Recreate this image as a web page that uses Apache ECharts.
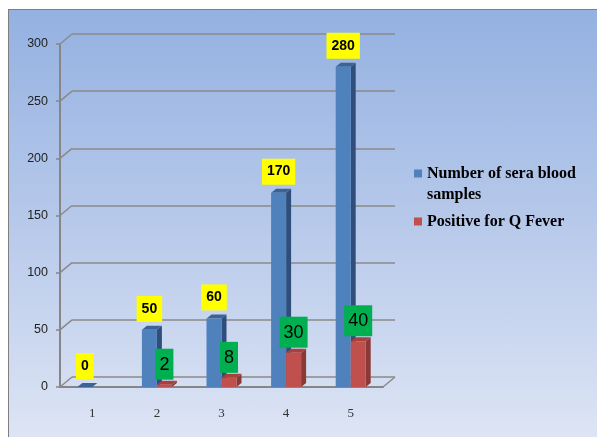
<!DOCTYPE html>
<html>
<head>
<meta charset="utf-8">
<script src="https://cdn.jsdelivr.net/npm/echarts@6/dist/echarts.min.js"></script>
<style>
  html, body { margin: 0; padding: 0; background: #fff; }
  #wrap { position: relative; width: 597px; height: 437px; overflow: hidden; }
  #panel {
    position: absolute; left: 8px; top: 9px; width: 620px; height: 460px;
    border-left: 1px solid #7f7f7f; border-top: 1px solid #7f7f7f;
    background: linear-gradient(to bottom, #94b1e1 0%, #bacbeb 50%, #e3e9f6 100%);
  }
  #main { position: absolute; left: 0; top: 0; width: 597px; height: 437px; }
</style>
</head>
<body>
<div id="wrap">
  <div id="panel"></div>
  <div id="main"></div>
</div>
<script>
const categories = ['1', '2', '3', '4', '5']
const seriesNames = ['Number of sera blood samples', 'Positive for Q Fever']
const samples = [0, 50, 60, 170, 280]
const positive = [null, 2, 8, 30, 40]
const yTicks = [0, 50, 100, 150, 200, 250, 300]

const BAR_W = 15
const DEPTH_X = 12, DEPTH_Y = 10   // back wall offset
const EXT_X = 5, EXT_Y = 4         // bar extrusion

// side / top faces of a bar, drawn from the same scale as the bar
function extrude(k, topColor, sideColor) {
    return function (params, api) {
        const v = api.value(1)
        if (v == null || isNaN(v)) return null
        const c = api.coord([api.value(0), v])
        const b = api.coord([api.value(0), 0])
        const x0 = c[0] - BAR_W + k * BAR_W
        const x1 = x0 + BAR_W
        const yt = c[1], yb = b[1]
        return {
            type: 'group',
            children: [{
                type: 'polygon',
                shape: { points: [[x1, yt], [x1 + EXT_X, yt - EXT_Y], [x1 + EXT_X, yb - EXT_Y], [x1, yb]] },
                style: { fill: sideColor }
            }, {
                type: 'polygon',
                shape: { points: [[x0, yt], [x0 + EXT_X, yt - EXT_Y], [x1 + EXT_X, yt - EXT_Y], [x1, yt]] },
                style: { fill: topColor }
            }]
        }
    }
}

// little diagonals joining the front axis to the back wall
function depthLines(params, api) {
    const v = api.value(0)
    const band = api.size([1, 0])[0]
    const p = api.coord([0, v])
    const xl = p[0] - band / 2
    const lines = [{
        type: 'line',
        shape: { x1: xl, y1: p[1], x2: xl + DEPTH_X, y2: p[1] - DEPTH_Y },
        style: { stroke: '#8a8a8a', lineWidth: 1.5 }
    }]
    if (v === 0) {
        const xr = api.coord([categories.length - 1, 0])[0] + band / 2
        lines.push({
            type: 'line',
            shape: { x1: xr, y1: p[1], x2: xr + DEPTH_X, y2: p[1] - DEPTH_Y },
            style: { stroke: '#8a8a8a', lineWidth: 1.5 }
        })
    }
    return { type: 'group', children: lines }
}

const legendText = {
    fontFamily: 'Liberation Serif', fontWeight: 'bold', fontSize: 16,
    color: '#000', lineHeight: 21
}

const chart = echarts.init(document.getElementById('main'))
const option = {
    animation: false,
    backgroundColor: 'transparent',
    grid: [
        { left: 60, top: 44, width: 323, height: 343 },
        { left: 60 + DEPTH_X, top: 44 - DEPTH_Y, width: 323, height: 343 }
    ],
    legend: [{
        data: [seriesNames[0]],
        orient: 'vertical',
        left: 414,
        top: 142,
        padding: 0,
        icon: 'rect',
        itemWidth: 8,
        itemHeight: 8,
        // blank first line keeps the icon level with the first text line
        formatter: name => '\nNumber of sera blood\nsamples',
        textStyle: legendText
    }, {
        data: [seriesNames[1]],
        orient: 'vertical',
        left: 414,
        top: 211,
        padding: 0,
        icon: 'rect',
        itemWidth: 8,
        itemHeight: 8,
        textStyle: legendText
    }],
    xAxis: [{
        type: 'category',
        gridIndex: 0,
        data: categories,
        axisLine: { lineStyle: { color: '#868686', width: 2 } },
        axisTick: { length: 5, lineStyle: { color: '#868686', width: 1.5 } },
        axisLabel: { margin: 20, color: '#333', fontFamily: 'Liberation Serif', fontSize: 13 }
    }, {
        type: 'category',
        gridIndex: 1,
        data: categories,
        show: false
    }],
    yAxis: [{
        type: 'value',
        gridIndex: 0,
        min: 0, max: 300, interval: 50,
        axisLine: { show: true, lineStyle: { color: '#868686', width: 2 } },
        axisTick: { show: true, length: 4, lineStyle: { color: '#868686', width: 1.5 } },
        axisLabel: { margin: 12, color: '#222', fontFamily: 'Liberation Sans', fontSize: 12.5 },
        splitLine: { show: false }
    }, {
        type: 'value',
        gridIndex: 1,
        min: 0, max: 300, interval: 50,
        axisLine: { show: false },
        axisTick: { show: false },
        axisLabel: { show: false },
        splitLine: { show: true, lineStyle: { color: '#8a8a8a', width: 1.5 } }
    }],
    series: [{
        type: 'custom',
        name: 'depth',
        xAxisIndex: 0, yAxisIndex: 0,
        data: yTicks.map(v => [v]),
        renderItem: depthLines,
        silent: true,
        z: 1
    }, {
        type: 'custom',
        name: 'ext0',
        xAxisIndex: 0, yAxisIndex: 0,
        data: samples.map((v, i) => [i, v]),
        encode: { x: 0, y: 1 },
        renderItem: extrude(0, '#3d6395', '#2f4e7b'),
        silent: true,
        z: 2
    }, {
        type: 'bar',
        name: seriesNames[0],
        xAxisIndex: 0, yAxisIndex: 0,
        data: samples,
        barWidth: BAR_W,
        barGap: '0%',
        itemStyle: { color: '#4f81bd' },
        label: {
            show: true, position: 'top', distance: 8,
            backgroundColor: '#ffff00', color: '#000',
            fontFamily: 'Liberation Sans', fontWeight: 'bold', fontSize: 14,
            padding: [6, 5, 6, 5]
        },
        z: 3
    }, {
        type: 'custom',
        name: 'ext1',
        xAxisIndex: 0, yAxisIndex: 0,
        data: positive.map((v, i) => [i, v == null ? '-' : v]),
        encode: { x: 0, y: 1 },
        renderItem: extrude(1, '#a6413e', '#8b3937'),
        silent: true,
        z: 4
    }, {
        type: 'bar',
        name: seriesNames[1],
        xAxisIndex: 0, yAxisIndex: 0,
        data: positive.map(v => v == null ? '-' : v),
        barWidth: BAR_W,
        itemStyle: { color: '#c0504d' },
        label: {
            show: true, position: 'top', distance: 5,
            backgroundColor: '#00b050', color: '#000',
            fontFamily: 'Liberation Sans', fontSize: 18,
            padding: [7, 4, 6, 4]
        },
        z: 5
    }]
}
chart.setOption(option)
window.addEventListener('resize', () => {
    chart.resize()
})
</script>
</body>
</html>
